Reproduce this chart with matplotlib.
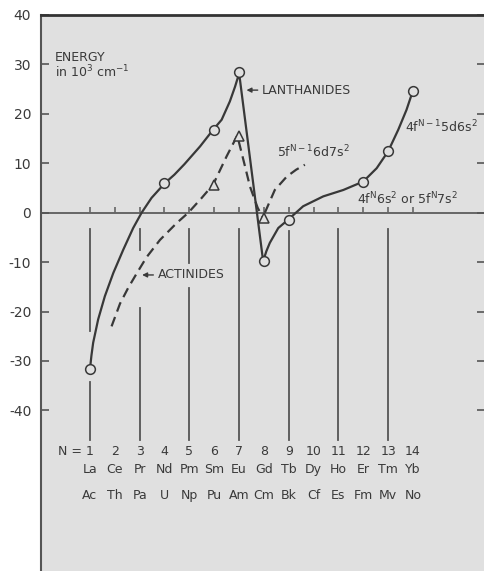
import matplotlib
matplotlib.use('Agg')

import matplotlib.pyplot as plt

plt.rcParams['font.family'] = ['DejaVu Sans']
plt.rcParams['mathtext.default'] = 'regular'

# lanthanides: circle markers and the solid curve traced through them
lan_n = [1, 4, 6, 7, 8, 9, 12, 13, 14]
lan_e = [-31.7, 6.0, 16.8, 28.4, -9.8, -1.4, 6.3, 12.4, 24.7]
lan_curve_n = [1, 1.06, 1.13, 1.33, 1.6, 1.94, 2.34, 2.74, 3.08, 3.48, 4.02, 4.4,
               4.8, 5.43, 5.96, 6.3, 6.63, 6.84, 6.95, 7, 7.97, 8.1, 8.24, 8.58,
               8.98, 9.58, 10.39, 11.2, 12, 12.54, 13, 13.41, 13.74, 14]
lan_curve_e = [-31.7, -28.9, -26.3, -21.6, -16.9, -12.2, -7.5, -3.1, 0, 3.0, 6.0,
               7.7, 9.8, 13.4, 16.8, 18.8, 22.5, 25.5, 27.3, 28.4, -9.8, -7.8,
               -6.1, -3.1, -1.4, 1.3, 3.3, 4.6, 6.3, 9.0, 12.4, 16.8, 20.8, 24.7]

# actinides: triangle markers and the dashed curves
act_n = [6, 7, 8]
act_e = [5.7, 15.6, -1.1]
act_curve_n = [1.87, 2.21, 2.54, 2.88, 3.28, 3.82, 4.49, 4.96, 5.5, 5.96, 6.5,
               6.93, 7.24, 7.44, 7.75, 7.97]
act_curve_e = [-23.0, -18.4, -15.2, -12.3, -9.0, -5.5, -2.1, 0, 3.0, 5.7, 11.4,
               15.6, 9.4, 5.3, 1.0, -1.1]
act_tail_n = [8.04, 8.44, 8.92, 9.3, 9.65]
act_tail_e = [0.0, 4.6, 7.3, 8.7, 9.7]

n_values = list(range(1, 15))
lanthanides = ['La', 'Ce', 'Pr', 'Nd', 'Pm', 'Sm', 'Eu', 'Gd', 'Tb', 'Dy', 'Ho', 'Er', 'Tm', 'Yb']
actinides = ['Ac', 'Th', 'Pa', 'U', 'Np', 'Pu', 'Am', 'Cm', 'Bk', 'Cf', 'Es', 'Fm', 'Mv', 'No']
y_ticks = [40, 30, 20, 10, 0, -10, -20, -30, -40]

# vertical guide lines at odd N (with their broken pieces)
guide_segments = {
    1: [(-3.4, -24.0), (-34.3, -45.9)],
    3: [(-3.4, -7.5), (-19.2, -45.9)],
    5: [(-3.4, -10.1), (-15.2, -45.9)],
    7: [(-3.4, -45.9)],
    9: [(-3.8, -45.9)],
    11: [(-3.4, -45.9)],
    13: [(-3.4, -45.9)],
}

ink = '#383838'
paper = '#e0e0e0'

fig = plt.figure(figsize=(4.85, 5.71), dpi=100)
ax = fig.add_axes([41 / 485, 0, 1 - 41 / 485, 556 / 571])
ax.set_facecolor(paper)
ax.set_xlim(-0.97, 16.9)
ax.set_ylim(-72.5, 40)

for s in ['right', 'bottom']:
    ax.spines[s].set_visible(False)
ax.spines['top'].set_linewidth(2.0)
ax.spines['top'].set_color('#333333')
ax.spines['left'].set_linewidth(1.5)
ax.spines['left'].set_color('#555555')

ax.set_xticks([])
ax.set_yticks(y_ticks)
ax.set_yticklabels([str(t) for t in y_ticks], fontsize=10, color='#3a3a3a')
ax.tick_params(axis='y', direction='in', length=6, width=1.2, color='#555555',
               left=True, right=True, pad=7)

# zero line with small ticks at each N
ax.axhline(0, color='#666666', lw=1.4, zorder=1)
ax.vlines(n_values, 0, 1.1, color='#666666', lw=1.2, zorder=1)

for n, segs in guide_segments.items():
    for top, bottom in segs:
        ax.plot([n, n], [top, bottom], color='#555555', lw=1.3, zorder=1)

# curves
ax.plot(lan_curve_n, lan_curve_e, color=ink, lw=1.6, zorder=3,
        solid_joinstyle='round')
ax.plot(lan_n, lan_e, 'o', ms=7, mfc=paper, mec=ink, mew=1.1, zorder=4)

dash = (0, (4.5, 2.6))
ax.plot(act_curve_n, act_curve_e, color=ink, lw=1.6, ls=dash, zorder=3)
ax.plot(act_tail_n, act_tail_e, color=ink, lw=1.6, ls=dash, zorder=3)
ax.plot(act_n, act_e, '^', ms=6.5, mfc=paper, mec=ink, mew=1.1, zorder=4)

txt = dict(color='#3a3a3a', fontsize=9)
ax.text(-0.41, 31.5, 'ENERGY', ha='left', va='center', **txt)
ax.text(-0.41, 28.4, 'in 10$^3$ cm$^{-1}$', ha='left', va='center', **txt)

arrow = dict(arrowstyle='-|>', color='#3a3a3a', lw=1.0, mutation_scale=7,
             shrinkA=1, shrinkB=0)
ax.annotate('LANTHANIDES', xy=(7.3, 24.8), xytext=(7.92, 24.8), ha='left',
            va='center', arrowprops=arrow, **txt)
ax.annotate('ACTINIDES', xy=(3.1, -12.6), xytext=(3.72, -12.6), ha='left',
            va='center', arrowprops=arrow, **txt)

ax.text(8.53, 12.3, '5f$^{N-1}$6d7s$^2$', ha='left', va='center', **txt)
ax.text(13.68, 17.4, '4f$^{N-1}$5d6s$^2$', ha='left', va='center', **txt)
ax.text(11.74, 2.8, '4f$^N$6s$^2$ or 5f$^N$7s$^2$', ha='left', va='center', **txt)

# bottom labels
ax.text(-0.29, -48.3, 'N =', ha='left', va='center', **txt)
for n, la, ac in zip(n_values, lanthanides, actinides):
    ax.text(n, -48.3, str(n), ha='center', va='center', **txt)
    ax.text(n, -51.9, la, ha='center', va='center', **txt)
    ax.text(n, -57.2, ac, ha='center', va='center', **txt)

fig.savefig('out.png', dpi=100)
